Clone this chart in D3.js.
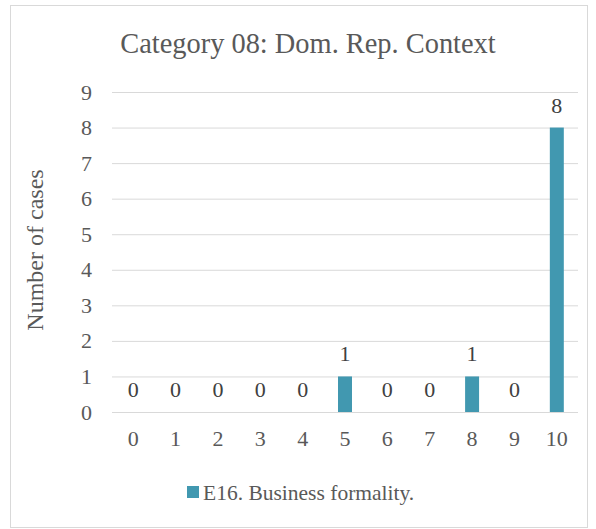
<!DOCTYPE html>
<html><head><meta charset="utf-8">
<script src="https://cdn.jsdelivr.net/npm/d3@7"></script>
<style>body{margin:0;background:#fff} svg text{font-family:"Liberation Serif","Times New Roman","Tinos","DejaVu Serif",serif !important}</style>
</head><body>
<script>
const categories = ["0","1","2","3","4","5","6","7","8","9","10"];
const values = [0,0,0,0,0,1,0,0,1,0,8];
const yTicks = [0,1,2,3,4,5,6,7,8,9];
const title = "Category 08: Dom. Rep. Context";
const yLabel = "Number of cases";
const seriesName = "E16. Business formality.";

const W = 596, H = 529;
const svg = d3.select("body").append("svg").attr("width", W).attr("height", H);
const gray = "#595959";
const barColor = "#4198B0";

svg.append("rect").attr("x", 10.5).attr("y", 5.5).attr("width", 577).attr("height", 522)
  .attr("fill", "#fff").attr("stroke", "#d9d9d9");

const x = d3.scaleBand().domain(categories).range([112, 578]).paddingInner(0.67).paddingOuter(0.335);
const y = d3.scaleLinear().domain([0, 9]).range([412, 92]);

svg.append("g").selectAll("line").data(yTicks).join("line")
  .attr("x1", 112).attr("x2", 578)
  .attr("y1", d => y(d) + 0.5).attr("y2", d => y(d) + 0.5)
  .attr("stroke", "#d9d9d9").attr("stroke-width", 1);

const ya = svg.append("g").attr("transform", "translate(92,0)")
  .call(d3.axisLeft(y).tickValues(yTicks).tickSize(0).tickPadding(0));
ya.select(".domain").remove();
ya.selectAll("text").attr("font-size", 22).attr("fill", gray);

const xa = svg.append("g").attr("transform", "translate(0,412)")
  .call(d3.axisBottom(x).tickSize(0).tickPadding(18));
xa.select(".domain").remove();
xa.selectAll("text").attr("font-size", 22).attr("fill", gray);

svg.append("g").selectAll("rect").data(values).join("rect")
  .attr("x", (d, i) => x(categories[i])).attr("width", x.bandwidth())
  .attr("y", d => y(d)).attr("height", d => y(0) - y(d))
  .attr("fill", barColor);

svg.append("g").selectAll("text").data(values).join("text")
  .attr("x", (d, i) => x(categories[i]) + x.bandwidth() / 2)
  .attr("y", d => y(d) - 15)
  .attr("text-anchor", "middle").attr("font-size", 22).attr("fill", "#404040")
  .text(d => d);

svg.append("text").attr("x", 308).attr("y", 53).attr("text-anchor", "middle")
  .attr("font-size", 28.4).attr("fill", gray).text(title);

svg.append("text").attr("transform", "translate(43,250) rotate(-90)").attr("text-anchor", "middle")
  .attr("font-size", 24).attr("fill", gray).text(yLabel);

const lg = svg.append("g");
lg.append("rect").attr("x", 187).attr("y", 486).attr("width", 12).attr("height", 12).attr("fill", barColor);
lg.append("text").attr("x", 203).attr("y", 500).attr("font-size", 21.5)
  .attr("fill", gray).text(seriesName);
</script>
</body></html>
